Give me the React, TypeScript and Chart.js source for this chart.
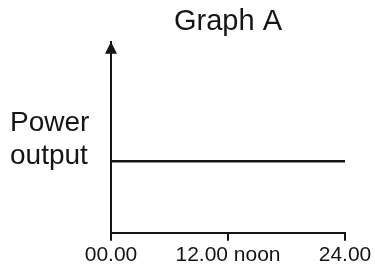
import React, { useEffect, useRef } from "react";
import { Chart, registerables } from "chart.js";

Chart.register(...registerables);

const titleText = "Graph A";
const yAxisLabel = ["Power", "output"];
const hours = [0, 24];
const powerOutput = [3, 3];
const xTickValues = [0, 12, 24];
const xTickLabels = ["00.00", "12.00 noon", "24.00"];
const yMin = 0;
const yMax = 8;
const yLabelAt = 3.9;

const FONT = "'Liberation Sans', Arial, sans-serif";
const INK = "#151515";

const arrowPlugin = {
  id: "axisArrow",
  afterDraw(chart: any) {
    const { ctx, chartArea } = chart;
    const x = chartArea.left;
    const y = chartArea.top;
    ctx.save();
    ctx.fillStyle = INK;
    ctx.beginPath();
    ctx.moveTo(x, y);
    ctx.lineTo(x - 6, y + 12);
    ctx.lineTo(x + 6, y + 12);
    ctx.closePath();
    ctx.fill();
    ctx.restore();
  },
};

export default function App() {
  const ref = useRef<HTMLCanvasElement>(null);
  useEffect(() => {
    if (!ref.current) return;
    const chart = new Chart(ref.current, {
      type: "line",
      data: {
        datasets: [
          {
            data: hours.map((h, i) => ({ x: h, y: powerOutput[i] })),
            borderColor: INK,
            borderWidth: 2.5,
            pointRadius: 0,
            fill: false,
          },
        ],
      },
      options: {
        animation: false,
        responsive: true,
        maintainAspectRatio: false,
        layout: { padding: { left: 10, right: 30, top: 0, bottom: 0 } },
        plugins: {
          legend: { display: false },
          tooltip: { enabled: false },
          title: {
            display: true,
            text: titleText,
            fullSize: false,
            color: INK,
            font: { family: FONT, size: 29, weight: "normal" },
            padding: { top: 5, bottom: 2 },
          },
        },
        scales: {
          x: {
            type: "linear",
            min: xTickValues[0],
            max: xTickValues[xTickValues.length - 1],
            afterBuildTicks: (scale: any) => {
              scale.ticks = xTickValues.map((v) => ({ value: v }));
            },
            ticks: {
              autoSkip: false,
              maxRotation: 0,
              padding: 2,
              color: INK,
              font: { family: FONT, size: 21 },
              callback: (v: any) => {
                const i = xTickValues.indexOf(Number(v));
                return i >= 0 ? xTickLabels[i] : "";
              },
            },
            grid: {
              display: true,
              drawOnChartArea: false,
              drawTicks: true,
              tickLength: 8,
              color: INK,
              lineWidth: 2,
            },
            border: { display: true, color: INK, width: 2 },
          },
          y: {
            type: "linear",
            min: yMin,
            max: yMax,
            afterBuildTicks: (scale: any) => {
              scale.ticks = [{ value: yLabelAt }];
            },
            afterFit: (scale: any) => {
              scale.width = 101;
            },
            ticks: {
              autoSkip: false,
              crossAlign: "far",
              padding: 0,
              color: INK,
              font: { family: FONT, size: 28, lineHeight: 1.2 },
              callback: () => yAxisLabel,
            },
            grid: {
              display: true,
              drawOnChartArea: false,
              drawTicks: false,
            },
            border: { display: true, color: INK, width: 2 },
          },
        },
      },
      plugins: [arrowPlugin],
    } as any);
    return () => chart.destroy();
  }, []);
  return (
    <div style={{ position: "absolute", left: 0, top: 0, width: 375, height: 270, background: "#fff" }}>
      <canvas ref={ref} />
    </div>
  );
}
